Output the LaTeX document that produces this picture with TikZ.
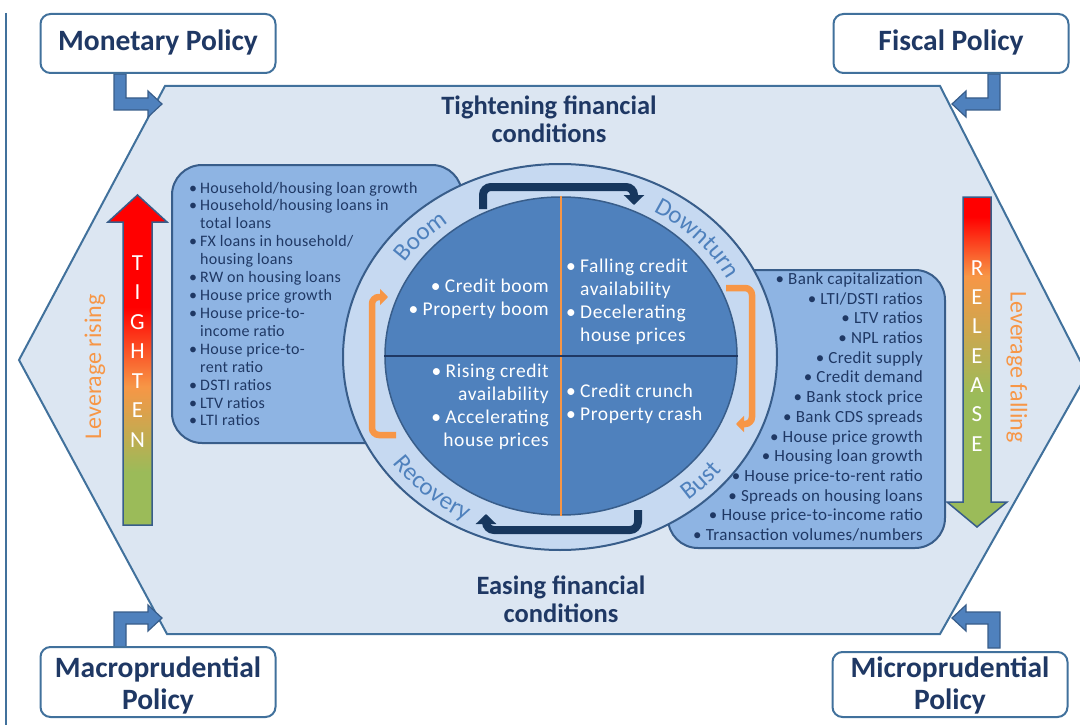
\documentclass[tikz,border=0pt]{standalone}
\usepackage{fontspec}
\setmainfont{Carlito}
\newfontfamily\boxfont[LetterSpace=2]{Carlito}
\newfontfamily\quadfont[LetterSpace=3]{Carlito}
\usetikzlibrary{arrows.meta,shapes.geometric,decorations.text}

\definecolor{hexfill}{HTML}{DCE6F2}
\definecolor{hexline}{HTML}{41719C}
\definecolor{boxfill}{HTML}{8EB4E3}
\definecolor{ringfill}{HTML}{C6D9F1}
\definecolor{discfill}{HTML}{4F81BD}
\definecolor{edgeblue}{HTML}{385D8A}
\definecolor{titlenavy}{HTML}{1F3864}
\definecolor{cyclenavy}{HTML}{17375E}
\definecolor{levorange}{HTML}{F79646}
\definecolor{levgreen}{HTML}{9BBB59}
\definecolor{phaseblue}{HTML}{4F81BD}

\pgfdeclareverticalshading{tightshade}{100bp}{color(0bp)=(levgreen); color(33bp)=(levgreen); color(46bp)=(levorange); color(58bp)=(red); color(100bp)=(red)}
\pgfdeclareverticalshading{releaseshade}{100bp}{color(0bp)=(levgreen); color(45bp)=(levgreen); color(63bp)=(levorange); color(72bp)=(red); color(100bp)=(red)}

\newcommand\lbul{\makebox[11pt][l]{\textbullet}}
\newcommand\lind{\hspace*{11pt}}
\newcommand\qbul{\makebox[14pt][l]{\textbullet}}
\newcommand\qind{\hspace*{14pt}}

\begin{document}
\begin{tikzpicture}[x=1pt, y=-1pt,
  policy/.style={draw=hexline, line width=2pt, fill=white, rounded corners=10pt,
    minimum width=235pt, inner sep=2pt, align=center, text=titlenavy,
    font=\fontsize{29.5}{32}\selectfont\bfseries},
  polarrow/.style={draw=edgeblue, line width=1.2pt, fill=discfill},
  infobox/.style={draw=edgeblue, line width=2pt, fill=boxfill, rounded corners=30pt},
  headline/.style={align=center, text=titlenavy, font=\fontsize{26.5}{28}\selectfont\bfseries},
  lefttext/.style={inner sep=0pt, text=titlenavy, font=\boxfont\fontsize{16}{18}\selectfont},
  righttext/.style={inner sep=0pt, text=titlenavy, font=\boxfont\fontsize{17}{19}\selectfont},
  quadtext/.style={inner sep=0pt, text=white, font=\quadfont\fontsize{19.5}{23}\selectfont},
  phase/.style={decorate, decoration={text along path, text align=center,
    text={|\fontsize{25}{26}\selectfont\color{phaseblue}|#1}}},
  levletter/.style={inner sep=0pt, text=white, font=\fontsize{23}{23}\selectfont},
  levlabel/.style={inner sep=0pt, text=levorange, font=\fontsize{24}{24}\selectfont},
  navycycle/.style={cyclenavy, line width=8pt, rounded corners=8pt,
    -{Triangle[width=20pt,length=10pt]}},
  orangecycle/.style={levorange, line width=6.5pt, rounded corners=7pt,
    -{Triangle[width=16pt,length=8pt]}}]
  \useasboundingbox (0,0) rectangle (1080,725);
  \draw[hexline, line width=2pt] (6,13) -- (6,725);
  \draw[hexline, fill=hexfill, line width=2pt]
    (165,86) -- (940,86) -- (1087,374) -- (940,634) -- (167,634) -- (19,360) -- cycle;

  \foreach \sx/\sy in {1/1,-1/1,1/-1,-1/-1}
    \draw[polarrow, shift={(557,361)}, xscale=\sx, yscale=\sy]
      (-443,-287) -- (-443,-251) -- (-409,-251) -- (-409,-244) -- (-395,-257)
      -- (-409,-270) -- (-409,-263) -- (-431,-263) -- (-431,-287) -- cycle;

  \node[policy, text height=35pt, text depth=20pt] (monetary) at (158,43.5) {Monetary Policy};
  \node[policy, text height=35pt, text depth=20pt] (fiscal) at (951,43.5) {Fiscal Policy};
  \node[policy, text height=60pt, text depth=6pt] (macro) at (158,682) {Macroprudential\\Policy};
  \node[policy, text height=55pt, text depth=6pt] (micro) at (950,684.5) {Microprudential\\Policy};

  \node[headline] (tight) at (549,119) {Tightening financial\\conditions};
  \node[headline] (easing) at (561,599) {Easing financial\\conditions};

  \draw[infobox] (172,165) rectangle (462,443);
  \draw[infobox] (668,270) rectangle (945,548);

  \foreach \t [count=\i] in {\lbul Household/housing loan growth, \lbul Household/housing loans in,
      \lind total loans, \lbul FX loans in household/, \lind housing loans,
      \lbul RW on housing loans, \lbul House price growth, \lbul House price-to-,
      \lind income ratio, \lbul House price-to-, \lind rent ratio, \lbul DSTI ratios,
      \lbul LTV ratios, \lbul LTI ratios}
    \node[lefttext, anchor=base west] (lt\i) at (189, {193+17.92*(\i-1)}) {\t};

  \foreach \t [count=\i] in {Bank capitalization, LTI/DSTI ratios, LTV ratios, NPL ratios,
      Credit supply, Credit demand, Bank stock price, Bank CDS spreads, House price growth,
      Housing loan growth, House price-to-rent ratio, Spreads on housing loans,
      House price-to-income ratio, Transaction volumes/numbers}
    \node[righttext, anchor=base east] (rt\i) at (923, {284.5+19.69*(\i-1)}) {\textbullet\ \t};

  \shadedraw[shading=tightshade, draw=edgeblue, line width=1.5pt]
    (123,525) -- (123,222) -- (108,222) -- (137.5,195) -- (167,222) -- (152,222) -- (152,525) -- cycle;
  \shadedraw[shading=releaseshade, draw=edgeblue, line width=1.5pt]
    (963,197) -- (963,502) -- (947,502) -- (977,527) -- (1007,502) -- (991,502) -- (991,197) -- cycle;
  \foreach \ch [count=\i] in {T,I,G,H,T,E,N}
    \node[levletter] (tl\i) at (137.5, {263+29.5*(\i-1)}) {\ch};
  \foreach \ch [count=\i] in {R,E,L,E,A,S,E}
    \node[levletter] (rl\i) at (977, {268+29.3*(\i-1)}) {\ch};
  \node[levlabel, rotate=90] (rising) at (95,367) {Leverage rising};
  \node[levlabel, rotate=-90] (falling) at (1017,367) {Leverage falling};

  \node[ellipse, draw=edgeblue, fill=ringfill, line width=2pt, inner sep=0pt,
    minimum width=434pt, minimum height=386pt] (ring) at (560,357) {};
  \node[ellipse, draw=edgeblue, fill=discfill, line width=1.5pt, inner sep=0pt,
    minimum width=352pt, minimum height=318pt] (disc) at (561,356) {};
  \draw[levorange, line width=2pt] (disc.north) -- (disc.south);
  \draw[titlenavy, line width=2.5pt] (disc.west) -- (disc.east);

  \node[quadtext, align=right, anchor=east] (boomtxt) at (549,298.5)
    {\qbul Credit boom\\\qbul Property boom};
  \node[quadtext, align=left, anchor=west] (downtxt) at (566,301.5)
    {\qbul Falling credit\\\qind availability\\\qbul Decelerating\\\qind house prices};
  \node[quadtext, align=right, anchor=east] (recotxt) at (549,406.5)
    {\qbul Rising credit\\availability\\\qbul Accelerating\\house prices};
  \node[quadtext, align=left, anchor=west] (busttxt) at (566,403.5)
    {\qbul Credit crunch\\\qbul Property crash};

  \path[phase=Boom] ([shift={(-167:188 and 167)}]560.5,356.5)
    arc [start angle=-167, end angle=-107, x radius=188, y radius=167];
  \path[phase=Downturn] ([shift={(-78:188 and 167)}]560.5,356.5)
    arc [start angle=-78, end angle=-8, x radius=188, y radius=167];
  \path[phase=Recovery] ([shift={(-193:205 and 185)}]560.5,356.5)
    arc [start angle=-193, end angle=-263, x radius=205, y radius=185];
  \path[phase=Bust] ([shift={(-286:205 and 185)}]560.5,356.5)
    arc [start angle=-286, end angle=-346, x radius=205, y radius=185];

  \draw[navycycle] (483,209) |- (634,187) -- (634,205);
  \draw[navycycle] (638,510) |- (486,530) -- (486,514);
  \draw[orangecycle] (726,288) -| (752,424) -- (736,424);
  \draw[orangecycle] (396,435) -| (372,297) -- (388,297);
\end{tikzpicture}
\end{document}
